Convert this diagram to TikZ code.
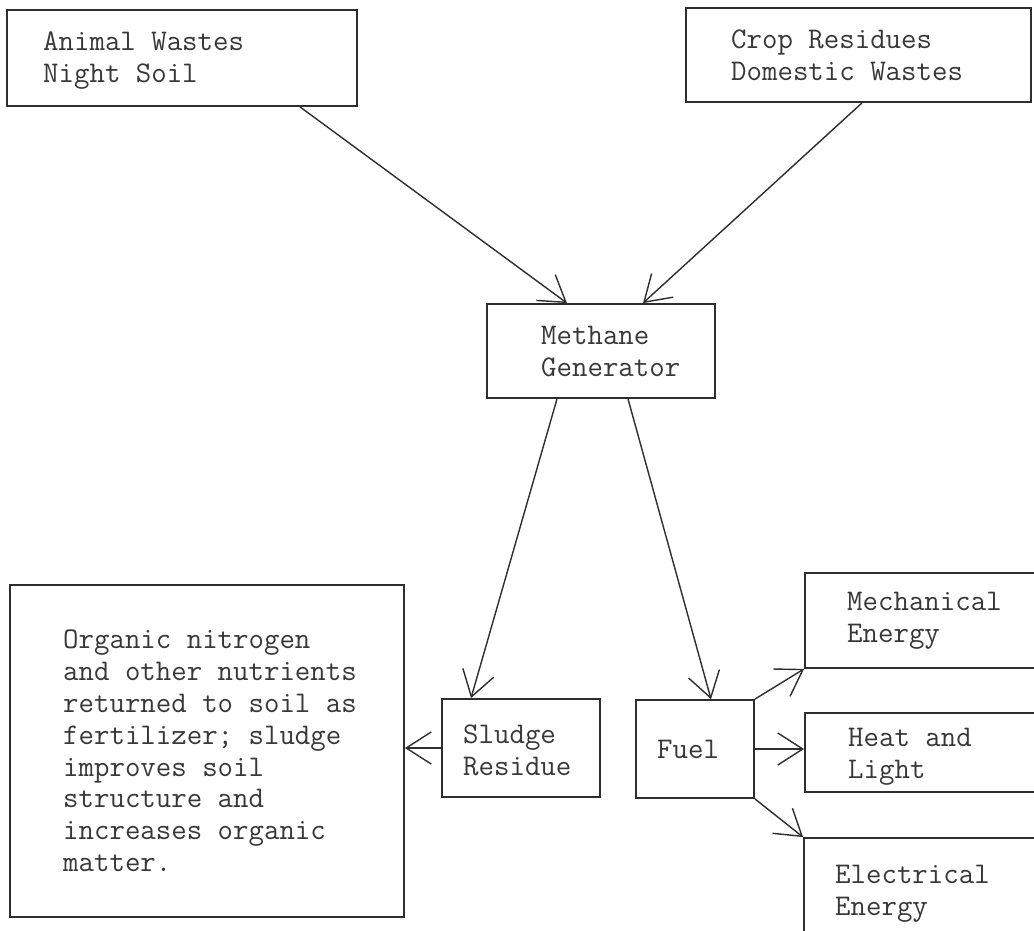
\documentclass[tikz,border=0pt]{standalone}
\usepackage{fontspec}
\usetikzlibrary{arrows.meta}
\definecolor{ink}{HTML}{2E2E2E}
\definecolor{txt}{HTML}{383838}
\begin{document}
\begin{tikzpicture}[x=1pt,y=-1pt,
  box/.style={draw=ink, line width=1.8pt, minimum width=#1, inner sep=0pt},
  lab/.style={anchor=north west, inner sep=0pt, align=left, text=txt,
    font=\ttfamily\fontsize{30}{31.8}\selectfont},
  flow/.style={draw=ink, line width=1.4pt, -{Straight Barb[length=25pt,width=32pt,line width=1.4pt]}}]
\useasboundingbox (0,0) rectangle (1034,931);
\clip (0,0) rectangle (1034,931);
\fill[white] (0,0) rectangle (1034,931);
% boxes
\node[box=350pt, minimum height=96pt] (A) at (182,58) {};
\node[box=345pt, minimum height=94pt] (B) at (858.5,55) {};
\node[box=228pt, minimum height=94pt] (M) at (601,351) {};
\node[box=158pt, minimum height=98pt] (S) at (521,748) {};
\node[box=118pt, minimum height=98pt] (F) at (695,749) {};
\node[box=394pt, minimum height=332pt] (N) at (207,751) {};
\node[box=245pt, minimum height=95pt] (Me) at (927.5,620.5) {};
\node[box=245pt, minimum height=79pt] (H) at (927.5,752.5) {};
\node[box=246pt, minimum height=122pt] (E) at (927,899) {};
% texts
\node[lab] (At) at (43,32) {Animal Wastes\\Night Soil};
\node[lab] (Bt) at (731,30) {Crop Residues\\Domestic Wastes};
\node[lab] (Mt) at (541,326) {Methane\\Generator};
\node[lab] (St) at (463,725) {Sludge\\Residue};
\node[lab] (Ft) at (657,740) {Fuel};
\node[lab] (Nt) at (63,630) {Organic nitrogen\\and other nutrients\\returned to soil as\\fertilizer; sludge\\improves soil\\structure and\\increases organic\\matter.};
\node[lab] (Met) at (847,592) {Mechanical\\Energy};
\node[lab] (Ht) at (848,728) {Heat and\\Light};
\node[lab] (Et) at (835,865) {Electrical\\Energy};
% connectors
\draw[flow] ([xshift=118pt]A.south) -- ([xshift=-34pt]M.north);
\draw[flow] ([xshift=3.5pt]B.south) -- ([xshift=42pt]M.north);
\draw[flow] ([xshift=-44pt]M.south) -- ([xshift=-50pt]S.north);
\draw[flow] ([xshift=27pt]M.south) -- ([xshift=16pt]F.north);
\draw[flow] (S.west) -- (S.west -| N.east);
\draw[flow] (F.north east) -- (Me.south west);
\draw[flow] (F.east) -- (F.east -| H.west);
\draw[flow] (F.south east) -- (E.north west);
\end{tikzpicture}
\end{document}
